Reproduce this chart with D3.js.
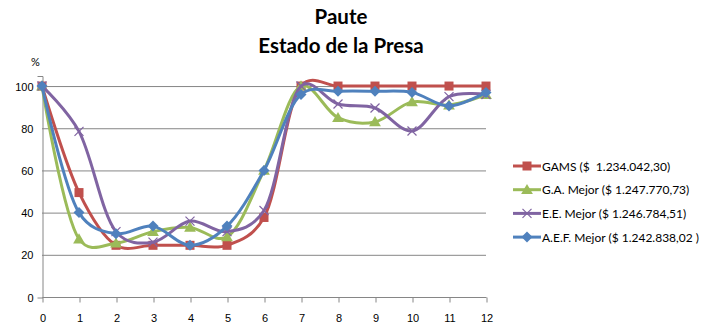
<!DOCTYPE html>
<html lang="es">
<head>
<meta charset="utf-8">
<title>Paute - Estado de la Presa</title>
<script src="https://d3js.org/d3.v7.min.js"></script>
<style>
  body { margin: 0; background: #fff; }
  svg { font-family: Lato, "Open Sans", sans-serif; }
  .grid line { stroke: #868686; stroke-width: 1; }
  .axis path, .axis line { stroke: #868686; }
  .axis text { font-size: 11px; fill: #000; }
  .legend text { white-space: pre; }
</style>
</head>
<body>
<script>
  // data
  const periods = [0, 1, 2, 3, 4, 5, 6, 7, 8, 9, 10, 11, 12];
  const yTicks = [0, 20, 40, 60, 80, 100];
  const gams = [100, 49.5, 24.5, 24.5, 24.5, 24.5, 37.7, 100, 100, 100, 100, 100, 100];
  const gaMejor = [100, 27.5, 25.5, 31, 33, 28.5, 60, 100, 85, 83, 92.5, 91, 96];
  const eeMejor = [100, 78.5, 31, 26, 36, 31, 41, 100, 91.5, 89.6, 78.7, 95, 96];
  const aefMejor = [100, 40, 30, 33.6, 24.5, 33.6, 60, 96, 97.5, 97.5, 97, 90.5, 97];
  const seriesNames = ["GAMS ($  1.234.042,30)", "G.A. Mejor ($ 1.247.770,73)",
    "E.E. Mejor ($ 1.246.784,51)", "A.E.F. Mejor ($ 1.242.838,02 )"];

  const w = 709, h = 333;
  const plotLeft = 42, plotRight = 486, plotTop = 75.5, plotBottom = 297;

  const series = [
    { name: seriesNames[0], values: gams, color: "#C0504D", shape: "square" },
    { name: seriesNames[1], values: gaMejor, color: "#9BBB59", shape: "triangle" },
    { name: seriesNames[2], values: eeMejor, color: "#8064A2", shape: "x" },
    { name: seriesNames[3], values: aefMejor, color: "#4F81BD", shape: "diamond" }
  ];

  const xScale = d3.scaleLinear().domain([0, 12]).range([plotLeft, plotRight]);
  const yScale = d3.scaleLinear().domain([0, 105]).range([plotBottom, plotTop]);

  const svg = d3.select("body").append("svg")
    .attr("width", w)
    .attr("height", h);

  // title
  svg.append("text").attr("x", 341).attr("y", 24)
    .attr("text-anchor", "middle").attr("font-weight", "bold").attr("font-size", 20.5)
    .text("Paute");
  svg.append("text").attr("x", 341).attr("y", 53)
    .attr("text-anchor", "middle").attr("font-weight", "bold").attr("font-size", 20.5)
    .text("Estado de la Presa");

  // gridlines
  svg.append("g").attr("class", "grid")
    .selectAll("line")
    .data(yTicks.filter(d => d > 0))
    .join("line")
    .attr("x1", plotLeft).attr("x2", plotRight)
    .attr("y1", d => yScale(d) + 0.5).attr("y2", d => yScale(d) + 0.5);

  // axes
  const leftAxis = d3.axisLeft(yScale).tickValues(yTicks).tickSize(5).tickPadding(4);
  svg.append("g").attr("class", "axis")
    .attr("transform", "translate(" + (plotLeft + 0.5) + ",0.5)")
    .call(leftAxis)
    .call(g => g.selectAll(".tick line").attr("x2", 0));

  const bottomAxis = d3.axisBottom(xScale).tickValues(periods).tickSize(5).tickPadding(12);
  svg.append("g").attr("class", "axis")
    .attr("transform", "translate(0.5," + (plotBottom + 0.5) + ")")
    .call(bottomAxis)
    .call(g => g.select(".domain").attr("d", "M" + plotLeft + ",0H" + plotRight));

  svg.append("text").attr("x", 31).attr("y", 66)
    .attr("font-size", 11).text("%");

  // markers
  function drawMarker(g, shape, color, x, y) {
    if (shape == "square") {
      g.append("rect").attr("x", x - 4.5).attr("y", y - 4.5)
        .attr("width", 9).attr("height", 9).attr("fill", color);
    } else if (shape == "triangle") {
      g.append("path").attr("d", d3.symbol(d3.symbolTriangle, 60)())
        .attr("transform", "translate(" + x + "," + (y + 1) + ")").attr("fill", color);
    } else if (shape == "diamond") {
      g.append("path").attr("d", "M0,-5.5L5.5,0L0,5.5L-5.5,0Z")
        .attr("transform", "translate(" + x + "," + y + ")").attr("fill", color);
    } else {
      g.append("path").attr("d", "M-4.5,-4.5L4.5,4.5M-4.5,4.5L4.5,-4.5")
        .attr("transform", "translate(" + x + "," + y + ")")
        .attr("stroke", color).attr("stroke-width", 1.2).attr("fill", "none");
    }
  }

  const line = d3.line()
    .x((d, i) => xScale(periods[i]))
    .y(d => yScale(d))
    .curve(d3.curveCatmullRom.alpha(0.25));

  series.forEach(s => {
    const g = svg.append("g");
    g.append("path")
      .attr("d", line(s.values))
      .attr("fill", "none")
      .attr("stroke", s.color)
      .attr("stroke-width", 3)
      .attr("stroke-linejoin", "round");
    s.values.forEach((v, i) => drawMarker(g, s.shape, s.color, xScale(periods[i]), yScale(v)));
  });

  // legend
  const legend = svg.append("g").attr("class", "legend");
  series.forEach((s, i) => {
    const y = 166 + i * 23.7;
    const g = legend.append("g");
    g.append("line").attr("x1", 513).attr("x2", 541).attr("y1", y).attr("y2", y)
      .attr("stroke", s.color).attr("stroke-width", 3);
    drawMarker(g, s.shape, s.color, 527, y);
    g.append("text").attr("x", 542).attr("y", y + 4.5)
      .attr("font-size", 12).text(s.name);
  });
</script>
</body>
</html>
